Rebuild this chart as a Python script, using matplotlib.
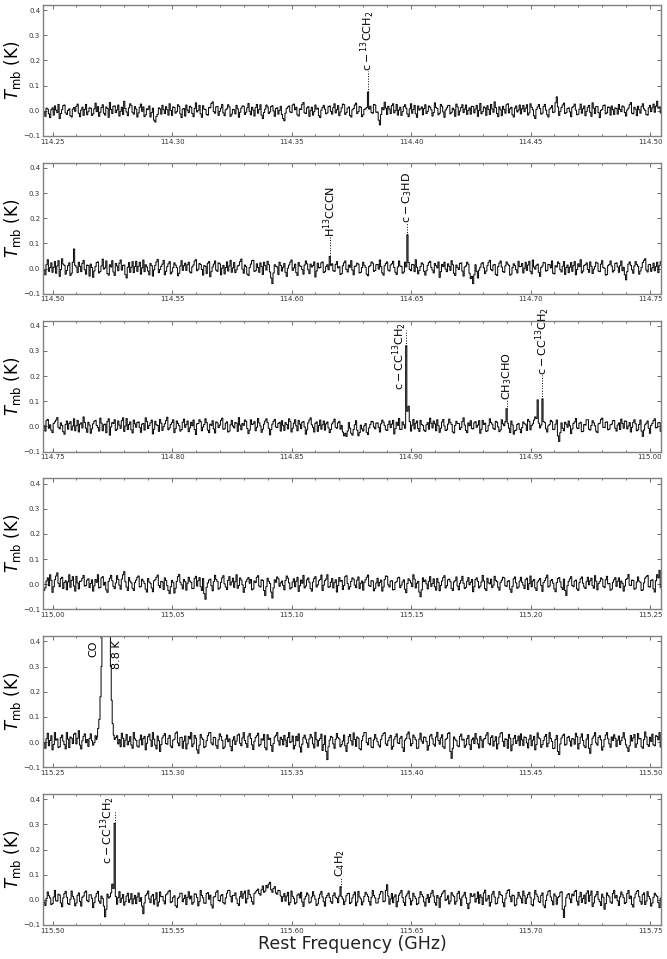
import numpy as np
import matplotlib
matplotlib.use('Agg')
import matplotlib.pyplot as plt
from matplotlib.ticker import MultipleLocator, FormatStrFormatter

# first labelled tick of each panel (GHz); panels span ~0.26 GHz
panel_start = [114.25, 114.50, 114.75, 115.00, 115.25, 115.50]
chan_width = 0.0005  # GHz
noise_unit = 1.25e-3  # K per count in the baseline lists

# baseline, one value per channel
noise_p1 = [
    12, -4, -18, 8, 5, -10, -22, 3, 9, -14, 15, 2, -6, 20, -25, -9, 3, 16, 18, -7, -12, 1, 6, -16, -20, 5, 10, -2, 14, 21, -8, -19, 2, 11, -15, 4, 20, -13, -3, 9,
    8, -15, -10, 6, 24, -3, 13, -18, -5, 10, 19, -8, -14, 12, 7, -21, 26, 4, -9, 14, 15, -6, 2, 18, -17, -2, 11, -12, 30, 7, -4, -16, 9, 22, 16, -5, -11, 13, 5, -20,
    -7, 11, 21, -2, 12, -19, -13, 6, 4, 15, -20, -6, 8, -30, -36, -18, -12, 9, 6, -11, 17, 3, -9, 13, 3, -14, 22, 1, -15, 12, 10, -8, -3, 19, 14, -10, -22, 5, 7, -17,
    18, 2, -6, 14, 11, -9, -19, 7, 25, -4, 1, 17, -10, -21, 16, 5, 4, -12, -14, 10, 9, 23, 28, -3, -8, 12, 13, -15, -2, 8, 20, -7, -16, 3, 6, 19, 12, -18, -11, 4,
    3, -10, 17, 6, -21, -5, 8, 15, 14, -12, -5, 9, 23, -2, -13, 11, 2, -17, 10, 20, -8, 4, 19, -14, -25, -6, 5, 18, 12, -9, -4, 13, 16, -1, -18, 7, 9, -11, 1, 14,
    -12, -25, -32, -8, 7, 12, 15, -4, -6, 18, 21, 3, 11, -13, -17, 6, 4, 20, 26, -7, -9, 9, 13, -18, 0, 11, -14, -3, 18, 5, 8, -16, -22, 2, 10, 17, 5, -10, -7, 13,
    15, -2, -11, 10, 22, -7, 3, 16, -16, -4, 9, 21, 19, -12, -6, 8, 12, -15, -20, 3, 7, 18, 24, -9, -3, 13, 11, -19, -13, 4, 6, 10, 0, 5, 14, -6, -8, 20, 18, -5,
    -4, -30, -45, -12, 10, 3, 27, 8, -12, 14, 5, -9, 16, 22, -7, 1, 20, -14, 2, 11, -15, -3, 13, 19, 8, -10, -19, 6, 22, -8, 4, 17, -10, -21, 15, 2, 6, 12, -13, 7,
    19, -9, -2, 15, 11, 3, -17, -6, 25, 10, 7, -13, -8, 20, 14, -4, -21, 2, 9, 16, 17, -10, -5, 8, 3, -18, 21, 12, -14, -1, 10, 19, -6, 5, 18, -12, 1, 9, -11, 14,
    13, -7, 5, 17, -18, 1, 23, -10, -3, 12, 9, -15, 16, 4, -12, 20, 6, -5, 28, 10, -9, -19, 12, 3, -16, 14, 4, -8, 19, 22, -7, 6, 11, -13, -20, 8, 15, -4, 2, 18,
    -10, 6, 17, -3, 8, 19, -14, -7, 22, 11, 3, -16, -25, 4, 12, 20, 7, -11, -8, 13, 20, 2, -13, -20, 5, 9, 16, -6, -4, 25, 44, 12, -15, -2, 10, 18, 24, -9, -6, 7,
    9, -4, -19, 10, 14, 21, 2, -13, -11, 5, 21, -8, 6, 15, -16, -2, 11, 17, -5, -18, 25, 8, -9, 13, 13, -6, -22, 1, 4, 16, 18, -10, -7, 12, 10, -14, 15, 3, -12, 9,
    7, -11, 20, 4, -3, 15, 12, -6, -17, 2, 8, 19, 26, -8, -10, 11, 5, -16, 14, 3, -8, 13, 22, 6, 1, -12, -14, 9, 17, -3, 9, 21, -5, 14, 30, 8, 12, -7, 18, 10]
noise_p2 = [
    15, -6, -20, 12, 28, -9, 3, 18, -12, 4, 22, -15, 8, 25, -25, -3, 31, 14, 10, -18, -6, 9, 18, -22, -15, 20, 62, 10, 5, -13, 20, 7, -10, 16, 26, -4, -18, 11, 9, -24,
    14, 3, -28, -8, 6, 19, 21, -14, -9, 8, 30, -2, 2, 24, -16, -21, 12, 5, 25, -11, -22, 16, 8, -7, 17, 27, -5, 10, 11, -19, -30, 4, 19, -12, 4, 22, -13, 6, 23, -9,
    7, 20, -18, 2, 27, -10, 12, 5, -8, -20, 16, 9, -24, -4, 10, 21, 29, -13, -3, 7, 14, 26, -20, -9, 6, 15, 22, -17, -11, 3, 18, 11, 3, -23, -15, 8, 25, -6, 9, 17,
    -6, 12, 20, -11, -14, 5, 11, 24, 28, -7, -2, 16, 13, -3, -21, 9, 7, -16, 17, 22, -26, -10, 5, 14, 24, -5, -9, 18, 15, -20, 1, 10, -17, 3, 21, -8, 8, 26, -12, 2,
    19, -13, -4, 8, 10, 22, 30, -2, -15, 11, 6, -18, -22, 3, 14, 25, 26, -9, -7, 15, 3, -12, 18, 6, -19, 20, 9, -5, 23, 12, -11, -30, -48, -14, 12, 7, 5, -19, 20, 10,
    -8, 4, 16, -12, -25, 1, 11, 20, 27, -6, 2, 14, -13, -22, 19, 8, 7, -3, -18, 11, 24, 15, -4, -16, 14, 5, 9, 21, -27, -8, 17, 2, 3, 18, 21, -13, -10, 6, 12, -4,
    0, 10, 15, -7, -9, 13, 22, 2, 6, -19, -16, 9, 18, 24, -3, -11, 11, 4, 25, -5, -20, 7, 8, 17, 14, -14, -12, 3, 20, 10, 4, -18, -23, 6, 10, 21, 17, -9, -6, 12,
    13, -2, 27, 6, -14, -21, 9, 16, 21, -5, -8, 11, 15, 23, 3, -12, -19, 5, 24, 8, 7, -15, -11, 20, 5, 0, 19, -3, -7, 13, 12, -10, 28, 4, -17, -6, 6, 18, 14, -9,
    -21, -7, 10, 19, 23, 4, -5, -14, 16, 9, 2, 21, -28, -10, 13, 6, 20, -2, -10, 15, 7, -6, 25, 12, -15, -22, 11, 3, -3, 16, 18, -8, -24, 5, 8, 20, 14, -15, -32, -25,
    -48, -20, 12, -9, -30, -5, 4, 15, 19, 2, -16, -8, 9, 20, 26, -3, -7, 11, 13, -19, -22, 6, 17, 24, 5, -10, -12, 8, 21, 14, 10, -21, -18, 3, 15, 9, -4, -14, 23, 6,
    7, 16, -14, 1, 20, -6, 11, 23, -9, -17, 27, 5, -2, 10, 14, -12, -25, 3, 8, 19, 18, -8, -6, 13, 12, 2, 24, -15, -17, 9, 5, 21, 16, -4, -11, 7, 22, -19, 3, 11,
    -13, 4, 19, -9, 9, 22, -20, -3, 15, 6, 28, -14, -8, 10, 12, 18, -3, -12, 21, 7, -16, -2, 6, 20, 17, -8, -10, 14, 25, 3, 1, -21, -19, 9, 13, 24, 8, -11, -6, 16,
    18, 5, -12, 9, 24, -7, 4, -20, -36, -10, 14, 21, 10, -4, -15, 8, 22, 13, 7, -18, -8, 3, 19, 26, 31, -5, -11, 12, 13, -9, 2, 17, -7, 6, 20, -13, 9, 22, 16, 4]
noise_p3 = [
    10, 2, -15, 18, 22, -6, 5, -12, -20, 9, 14, 20, 28, -3, -8, 11, 3, -17, -25, 6, 17, -9, 9, 15, -12, 1, 24, -14, 2, 19, -18, 7, 11, -5, 30, 12, -6, -19, 13, 4,
    -22, -8, 8, 16, 19, 3, -4, -15, 26, 10, -14, 5, 7, -20, 15, 24, -28, -2, 12, 9, 21, -13, -9, 17, 4, -6, 18, 27, -16, 1, 25, -10, 6, 14, -11, -21, 20, 8, -3, 12,
    14, -4, -19, 7, 9, -12, 27, 15, -7, 3, 11, 20, -24, -9, 16, 5, 3, -16, 22, 10, -13, -1, 8, 18, 29, -11, -5, 6, 12, 21, -20, -7, 17, 9, 2, -15, -10, 13, 23, -3,
    6, 17, -17, -5, 13, 2, 20, -10, -26, 8, 9, 21, 15, -14, -2, 6, 24, 12, -12, -20, 7, 3, 18, -8, -21, 14, 11, -4, 4, 19, 26, -9, -8, 10, 14, -18, -15, 5, 19, 1,
    -5, 12, 10, -16, 28, 4, -11, 9, 3, 20, 16, -7, -23, -12, 21, 6, 8, 15, -14, -3, 25, 11, 1, -19, -9, 7, 17, 24, 12, -6, -27, -10, 7, 16, 22, -2, -4, 9, 13, -15,
    18, 3, -13, 12, 6, -8, 24, 15, -18, -6, 10, 21, 2, -14, 19, 7, -7, 13, 15, -2, -25, -11, 11, 20, 27, 5, -3, -18, 9, 14, -16, 2, 20, -9, 5, 17, -12, 8, 14, -5,
    -20, -10, 8, 14, 23, -3, -6, 11, 16, -9, 3, -18, -30, -22, -32, -15, 12, -6, -22, -28, -10, 5, 18, -12, -30, -20, 4, -8, -15, 2, 9, -19, -26, -5, 6, 16, 14, -2, -8, 10,
    11, -3, -18, 8, 20, 13, 2, -11, -13, 6, 17, -4, 7, 19, -24, -7, 13, 3, 25, -10, -9, 14, 5, -6, 0, 48, 64, 15, -15, 4, 22, -8, 10, 17, -7, -16, 19, 6, 3, -12,
    -16, 5, 12, -9, 26, 10, -5, 17, 8, -14, 21, 2, -19, -6, 14, 22, 1, -13, -11, 7, 23, 12, 6, -18, -21, 3, 16, 9, 9, -10, -4, 15, 27, 4, -13, -20, 11, 2, 18, -7,
    -8, 11, 15, -3, 4, 18, -22, -9, 19, 6, 10, -16, -14, 3, 24, 12, 7, -6, -10, 16, 13, -2, -17, -11, 21, 8, 2, 15, 0, 10, -6, -20, 17, 4, -25, -14, -12, 6, 9, -9,
    -20, -4, 14, 9, 5, -13, 22, 16, -11, 3, 8, 20, 30, 25, 0, 10, -5, 4, 0, 15, 12, -8, -18, 2, 6, 19, 15, -10, -9, 7, 20, -30, -48, -20, 11, -6, -14, 13, 7, -3,
    17, 2, -23, -8, 9, 14, 25, -5, -7, 10, 13, -17, -16, 6, 4, 21, 21, -9, -12, 3, 18, 11, 2, -15, -20, 8, 10, 22, 26, -3, -4, 13, 14, -11, -9, 5, 7, 18, 19, -6,
    -15, 4, 11, -10, 23, 9, -6, 17, 16, -8, 1, 12, -18, -3, 13, 21, 8, -14, -11, 6, 20, -15, -32, -12, 5, 10, 17, -6, -22, 3, 9, 18, 24, -5, -3, 11, 12, -16, -8, 6]
noise_p4 = [
    8, -20, -12, 10, 20, -5, 30, 12, -26, -8, 14, 26, 36, 3, -8, 18, 22, -14, 5, 11, -18, 7, 30, -10, 12, 24, -6, -22, 25, 4, -15, 9, 10, 19, 28, -6, -4, 13, 17, -11,
    2, 14, -22, -5, 15, 6, 30, -12, -10, 20, 24, -3, 6, -18, -26, 9, 19, 28, 11, -7, -14, 4, 27, 15, -3, -16, 16, 30, 40, 8, -9, -20, 21, 10, 4, -13, -20, 5, 13, 22,
    26, -9, -7, 16, 10, 2, -16, -25, 18, 7, 3, -12, -24, 11, 14, 22, 29, -4, -11, 9, 7, -17, 20, 12, -5, -20, -30, -8, 12, 5, -28, -13, 9, 24, 31, 6, -2, -15, 15, 8,
    -19, 3, 22, 10, 6, -14, -13, 18, 25, -6, 11, 21, -8, -20, 18, -30, -48, -10, 4, 13, 16, -5, -21, 8, 28, 15, 9, -16, -12, 6, 20, 27, 1, -9, -17, 12, 24, -3, 7, 19,
    -10, 8, 30, -13, -4, 20, 13, -2, -26, -11, 8, 16, 21, 3, 15, -18, -15, 10, 5, 22, 27, -6, -9, 14, 12, -20, -36, -8, 19, 9, 2, -25, -44, -12, 14, 6, 23, 17, -7, 4,
    10, -4, -18, 12, 26, 19, 4, -15, -11, 7, 17, -8, 9, 22, -23, -5, 13, 3, 28, -12, -6, 14, 20, 6, -14, -22, 7, 18, 24, -9, -2, 11, 15, 29, -20, -3, 11, 16, 30, -10,
    -8, 6, 18, -12, 5, 14, -25, -4, 21, 9, 12, -17, -4, 24, 27, 2, -16, -8, 9, 20, 16, -3, -11, 13, 23, -14, 3, 10, -19, 6, 14, 22, 29, -5, -7, 11, 10, -21, -13, 4,
    19, -6, 6, 13, -22, -9, 15, 26, 25, -2, -9, 10, 11, -18, -17, 5, 8, 20, 22, -11, -3, 7, 14, -16, -27, 2, 17, 12, 4, -8, 30, 16, -12, 3, 9, -25, -40, -18, 20, 8,
    13, 1, -15, 9, 24, -7, 2, 17, -8, -19, 18, 5, -21, -4, 10, 21, 27, -12, -5, 14, 16, 8, -13, -20, 7, 11, 23, -6, -18, 3, 12, 25, 3, -14, -10, 9, 21, -2, 6, 15,
    -24, -8, 15, 20, 9, -12, -6, 7, 28, 10, -14, -20, 19, 4, 1, 16, -11, -3, 25, 12, 8, -10, -19, 6, 13, 22, 20, -5, -7, 9, 11, -16, -26, -7, 17, 23, 4, -13, -9, 10,
    22, 6, -3, -14, 14, 19, -17, 2, 26, -8, 10, 15, -12, -20, 7, 13, 18, -4, -23, 5, 12, 20, 29, -9, -6, 11, 15, 3, -15, -24, 5, 18, 21, 7, -10, -17, 16, -20, -36, -5,
    9, 17, 24, -4, -8, 10, 13, -15, -20, 5, 17, 23, 3, -9, -14, 8, 22, -2, 11, 19, -5, -13, 27, 9, -18, 2, 8, 20, 16, -7, -11, 14, 25, 1, 2, -19, -16, 6, 14, 21,
    -7, 9, 20, -11, 10, 3, -22, -6, 15, 18, 31, -3, -4, 13, 12, -16, -13, 7, 23, 10, 6, -20, -18, 4, 19, 24, 28, -8, -9, 12, 14, -15, -25, 11, 30, 20, 44, -10, -20, 5]
noise_p5 = [
    15, -3, -20, 10, 28, -12, 5, 20, -25, -8, 30, 6, 10, -18, -15, 14, 22, 3, -8, -22, 30, 9, -18, 16, 12, -5, 25, 28, -6, 12, 36, -10, -22, 4, 18, 26, -2, 8, -14, 11,
    26, 4, -10, -2, 20, 8, 12, 5, 8, 10, 15, 3, -5, 6, 10, 2, 6, 8, 9, 4, -12, 14, 20, -6, 8, -15, 28, 12, -15, 6, 24, -9, 2, 17, -9, -20, 30, 10, 5, -13,
    -16, 7, 22, -9, 11, 18, -25, -4, 17, 25, 6, -14, 30, 9, -10, -22, 19, 4, -30, -8, 13, 20, 27, -5, -7, 12, 21, -13, -18, 6, 9, 28, 32, -3, -12, 14, 15, -20, 3, 19,
    -22, -6, 18, 10, 30, -15, -6, 21, 12, -25, -36, -10, 24, 13, 8, -18, -14, 4, 20, 29, 30, -3, -9, 15, 14, -11, -20, 7, 26, 18, 5, -21, -16, 9, 22, 1, 10, -14, -28, 6,
    17, -8, 3, 22, 25, -4, -12, 13, 30, 5, -5, -17, 19, 27, 11, -9, -24, 2, 15, 20, 28, -13, -8, 10, 6, 24, -18, -25, 23, 8, 12, -11, -30, -5, 16, 21, 30, 4, -10, 15,
    8, -9, 21, 6, -15, 14, 30, -2, 2, 19, -22, -11, 18, 4, 26, -16, -32, -7, 14, 22, 9, -3, -17, 10, 24, 15, -6, -19, 31, 7, -13, 5, 11, 25, -27, -8, 20, -30, -56, -15,
    6, 18, 15, -6, -20, 9, 27, 14, 10, -15, -8, 3, 22, -12, -30, -4, 17, 24, 4, -10, 29, 8, -14, 16, 12, -21, -25, 5, 19, 30, 30, -2, -9, 11, 13, -16, -18, 7, 24, 12,
    1, -10, -16, 8, 20, 27, 30, -6, -11, 4, 14, 21, -23, -14, 9, 17, 26, -3, -5, 12, 18, -18, -30, 6, 11, 25, 32, 10, -12, -5, 22, 15, 7, -20, -19, 9, 28, 3, -4, 16,
    15, 2, -26, -11, 19, 24, 10, -7, -13, 16, 31, 5, -7, 13, 23, -15, -20, 8, 12, 27, 30, -30, -52, -20, 16, 9, 4, -12, -15, 18, 25, 6, 9, -17, -10, 11, 21, -8, -24, 7,
    13, -5, 27, 10, -6, -19, 18, 6, -17, 9, 11, 22, 30, -4, -9, 14, 20, -13, 3, 17, -22, -6, 16, 28, 30, 2, -14, 10, 8, -20, 24, 12, -28, -9, 12, 21, -5, 4, 19, -11,
    26, 7, -11, 16, 14, -3, -19, 9, 22, -12, 6, 18, -25, -8, 29, 13, 10, -17, -8, 5, 17, 24, -15, -4, 30, 11, 2, -21, -20, 8, 21, -30, -40, -6, 13, 20, 25, -10, -7, 14,
    18, 3, -13, 11, 9, -7, 28, 17, -22, -5, 15, 26, 5, -12, -18, 9, 24, -20, -36, -8, 12, 19, 30, -3, -10, 14, 20, 7, -26, -15, 8, 22, 30, 10, -6, -17, 16, 5, 23, 12,
    -14, 6, 19, -8, 4, 15, 30, 9, -9, -18, -30, -12, 21, 3, 13, 24, -17, -6, 27, 10, 11, -15, -20, 8, 32, 16, -8, -14, 15, 2, 25, -9, -12, 20, 18, 7, 30, -16, -5, 12]
noise_p6 = [
    10, -7, -18, 4, 25, 13, 6, -15, -12, 9, 30, -3, -4, 18, 15, -10, -22, 6, 20, 27, 8, -12, -15, 2, 28, 11, 3, -19, -10, 14, 22, -5, -20, 8, 12, 24, 28, -2, -6, 16,
    16, 5, -25, -9, 9, 20, 27, -4, -11, 12, 4, -20, -54, -30, 18, 6, 10, 22, 50, 36, 0, 10, -14, 7, 26, -8, 5, 17, -17, -6, 12, 21, -8, 2, 20, -13, 3, 14, -12, 9,
    22, -5, 7, -20, -44, -10, 14, 19, 28, 3, -9, 12, 17, -14, 2, 23, -20, -7, 25, 10, 11, -3, -13, 16, 19, 26, 30, -9, -6, 8, 13, -18, -24, 5, 9, 21, 21, -6, 4, 15,
    -15, 8, 26, 3, 12, -14, -8, 19, 18, 7, -19, -5, 30, 14, 6, -10, -11, 20, 23, 2, 15, -16, -26, 9, 10, 24, 29, -2, -4, 13, 17, -9, -13, 6, 21, 30, 30, 11, -7, 14,
    14, 22, 3, -12, -18, 10, 27, 5, 19, 28, -10, 4, 31, 17, 8, -6, -14, 20, 25, 30, 34, 20, 15, 32, 44, 24, 28, 46, 38, 50, 56, 32, 24, 36, 42, 22, 18, 30, 29, 12,
    -5, 10, 20, -4, 12, 24, -16, -8, 28, 11, 4, -13, -9, 15, 19, 6, 24, -7, -21, 3, 11, 22, 16, -10, -7, 9, 26, 13, 2, -18, -13, 5, 18, 27, 9, -6, -20, 7, 14, 21,
    7, -6, -11, 14, 22, 8, 5, -9, 12, 0, 10, 3, -15, -4, 13, 20, 21, -12, -8, 6, 16, 25, -19, -7, 27, 9, 3, -16, -6, 11, 24, 18, 11, -5, -17, 8, 30, 14, 6, -10,
    -10, 5, 18, 27, 25, -6, -4, 30, 48, 12, -14, 3, 20, -9, 9, 16, -22, -5, 15, 22, 30, 7, -8, -18, 12, 19, 28, 4, -16, -3, 21, 11, 4, -15, -12, 8, 26, 17, 10, -7,
    -20, 4, 17, -8, 8, 21, 30, 12, -9, -17, 14, 6, -24, 10, 19, 25, 30, -2, 2, 13, -13, -4, 23, 15, 11, -14, -5, 20, 27, 3, -18, 9, 15, 24, 6, -12, -28, -10, 20, 11,
    12, 19, -7, 4, 25, -11, 16, 8, -15, 22, 31, -4, 3, 14, -20, -8, 18, 27, 9, -13, -11, 6, 26, 17, 14, -9, -22, 3, 21, 30, 32, 10, -6, 15, 13, -19, -16, 5, 24, 12,
    5, -10, 28, 13, -12, 6, 17, 24, 8, -15, -19, 2, 30, 18, 10, -6, -8, 14, 22, -17, -25, -2, 15, 27, 30, 9, -3, -16, 19, 12, -14, 7, 11, 23, 26, -30, -56, -20, 7, 16,
    20, 3, -9, 18, 13, 26, 30, -4, -17, 10, 24, -8, 4, 15, -12, 21, 29, -5, 15, 28, -21, -10, 10, 16, 27, 2, -6, -18, 18, 8, -30, -12, 22, 14, 9, -7, -11, 20, 30, 6,
    14, -3, -18, 9, 25, 16, 7, -12, -8, 20, 30, 4, 12, -15, -23, 6, 19, 27, 30, 10, -5, -14, 16, 22, -15, -4, 26, 11, 3, -20, -10, 8, 21, 15, 11, -9, -25, 5, 17, 24]
noise = [noise_p1, noise_p2, noise_p3, noise_p4, noise_p5, noise_p6]

# CO J=1-0 profile (K), peak off scale
co_freq = [115.2686, 115.2691, 115.2696, 115.2701, 115.2705, 115.2708, 115.2716, 115.2724,
           115.2732, 115.2740, 115.2744, 115.2747, 115.2752, 115.2756, 115.2760]
co_temp = [0.02, 0.054, 0.09, 0.18, 0.30, 0.6, 4.0, 8.8, 4.0, 0.6, 0.30, 0.166, 0.073, 0.027, 0.01]
co_labels = ['CO', '8.8 K']

# narrow lines
line_panel = [0, 1, 1, 2, 2, 2, 2, 5, 5]
line_freq = [114.382, 114.6158, 114.6484, 114.898, 114.940, 114.953, 114.955, 115.526, 115.6204]
line_peak = [0.074, 0.048, 0.134, 0.32, 0.07, 0.105, 0.109, 0.304, 0.052]
line_label = [r'$\rm c-{}^{13}CCH_2$', r'$\rm H^{13}CCCN$', r'$\rm c-C_3HD$',
              r'$\rm c-CC^{13}CH_2$', r'$\rm CH_3CHO$', '', r'$\rm c-CC^{13}CH_2$',
              r'$\rm c-CC^{13}CH_2$', r'$\rm C_4H_2$']
mark_top = [0.158, 0.126, 0.182, 0.383, 0.105, None, 0.204, 0.35, 0.092]
label_beside = [False, False, False, True, False, False, False, True, False]

fig, axes = plt.subplots(6, 1, figsize=(6.67, 9.59), dpi=100)
fig.subplots_adjust(left=43/667, right=661/667, top=1-5/959, bottom=1-925/959,
                    hspace=27/131)

for k, ax in enumerate(axes):
    s = panel_start[k]
    t = np.array(noise[k], float) * noise_unit
    f = s - 0.004 + chan_width * np.arange(len(t))

    marks = []
    for j in range(len(line_freq)):
        if line_panel[j] != k:
            continue
        i = np.argmin(np.abs(f - line_freq[j]))
        t[i] = line_peak[j]
        marks.append((f[i], j))

    if k == 4:
        keep = (f < min(co_freq)) | (f > max(co_freq))
        f = np.concatenate([f[keep], co_freq])
        t = np.concatenate([t[keep], co_temp])
        order = np.argsort(f)
        f, t = f[order], t[order]

    ax.plot(f, t, drawstyle='steps-mid', color='k', lw=0.7)

    for fx, j in marks:
        if not line_label[j]:
            continue
        ax.plot([fx, fx], [line_peak[j], mark_top[j]], ls=':', color='k', lw=0.7)
        if label_beside[j]:
            ax.text(fx - 0.0027, 0.413, line_label[j], rotation=90, ha='center', va='top',
                    fontsize=8)
        else:
            ax.text(fx, mark_top[j], line_label[j], rotation=90, ha='center', va='bottom',
                    fontsize=8)

    if k == 4:
        fpk = co_freq[int(np.argmax(co_temp))]
        ax.text(fpk - 0.0053, 0.404, co_labels[0], rotation=90, ha='center', va='top', fontsize=8)
        ax.text(fpk + 0.0044, 0.404, co_labels[1], rotation=90, ha='center', va='top', fontsize=8)

    ax.set_xlim(s - 0.004, s + 0.2546)
    ax.set_ylim(-0.1, 0.42)
    ax.xaxis.set_major_locator(MultipleLocator(0.05))
    ax.xaxis.set_minor_locator(MultipleLocator(0.01))
    ax.xaxis.set_major_formatter(FormatStrFormatter('%.2f'))
    ax.yaxis.set_major_locator(MultipleLocator(0.1))
    ax.tick_params(which='both', direction='in', top=True, right=True,
                   labelsize=5, labelcolor='#333333', color='#555555', width=0.6, pad=2)
    ax.tick_params(which='major', length=3)
    ax.tick_params(which='minor', length=1.5)
    for sp in ax.spines.values():
        sp.set_color('#808080')
        sp.set_linewidth(1.0)
    ax.set_ylabel(r'$T_{\rm mb}$ (K)', fontsize=12, labelpad=0)

axes[-1].set_xlabel('Rest Frequency (GHz)', fontsize=12.5, labelpad=1, color='#222222')

fig.savefig('out.png', dpi=100)
